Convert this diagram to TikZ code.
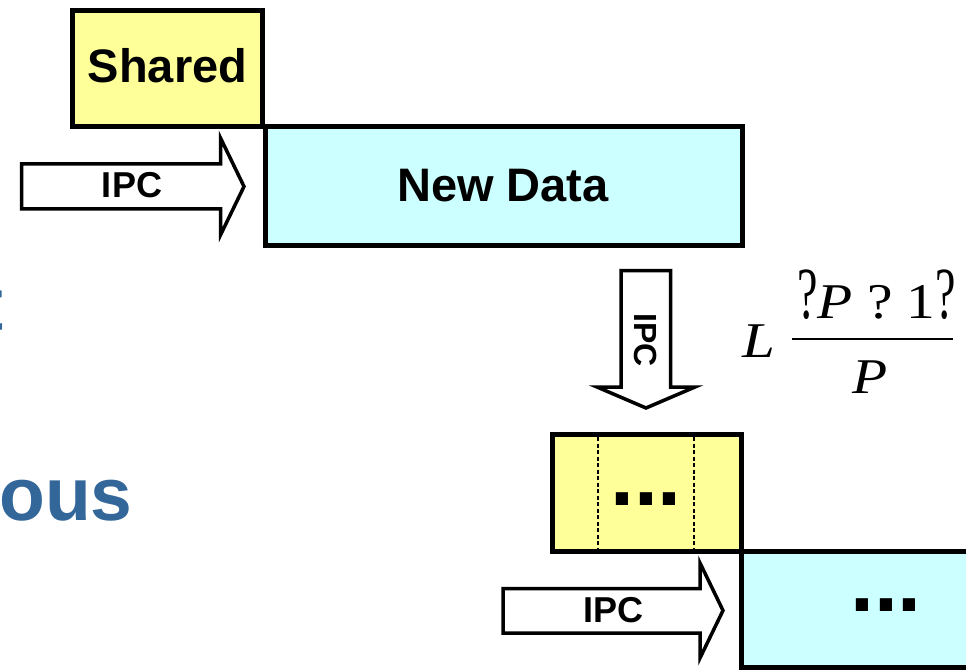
\documentclass[tikz,border=0pt]{standalone}
\usepackage{fontspec}
\setmainfont{Liberation Sans}
\newfontfamily\mathserif{Liberation Serif}
\definecolor{dataYellow}{HTML}{FFFF99}
\definecolor{dataCyan}{HTML}{CCFFFF}
\definecolor{titleBlue}{HTML}{336699}
% tall, narrow question mark standing in for a missing bracket glyph
\newcommand{\tallq}{\scalebox{0.8}[1.47]{?}}
\begin{document}
\begin{tikzpicture}[x=1pt,y=-1pt,
  blockbox/.style={draw=black, line width=5pt, inner sep=0pt},
  ipcarrow/.style={draw=black, fill=white, line width=3.5pt, line join=miter},
  boxtext/.style={font=\fontsize{47}{47}\selectfont\bfseries, inner sep=0pt},
  ipctext/.style={font=\fontsize{36}{36}\selectfont\bfseries, inner sep=0pt},
  dotstext/.style={font=\fontsize{86}{86}\selectfont\bfseries, inner sep=0pt},
  titletext/.style={font=\fontsize{75}{75}\selectfont\bfseries, text=titleBlue, inner sep=0pt},
  formula/.style={font=\fontsize{50}{50}\selectfont\mathserif, inner sep=0pt}]
\useasboundingbox (0,0) rectangle (966,671);

% fragments of the slide title
\node[titletext, anchor=base east] (titleT) at (4,330) {t};
\node[titletext, anchor=base west] (titleOus) at (-1,520) {ous};

% upper stage: shared block and new data block
\node[blockbox, fill=dataCyan, minimum width=477.5pt, minimum height=118.5pt] (newdataBox) at (503.75,186.25) {};
\node[blockbox, fill=dataYellow, minimum width=190pt, minimum height=116.5pt] (sharedBox) at (167.5,68.75) {};
\node[boxtext, anchor=base] (shared) at (167.5,83) {Shared};
\node[boxtext, anchor=base] (newdata) at (503,202) {New Data};

% incoming IPC arrow
\draw[ipcarrow] (21.5,164) -- (220.5,164) -- (220.5,138) -- (244,186.5)
  -- (220.5,235) -- (220.5,209) -- (21.5,209) -- cycle;
\node[ipctext, anchor=base] (ipcA) at (132,197) {IPC};

% downward IPC arrow
\draw[ipcarrow] (621,270.5) -- (670.5,270.5) -- (670.5,387) -- (695,387)
  -- (646,408) -- (597,387) -- (621,387) -- cycle;
\node[ipctext, rotate=-90, font=\fontsize{32}{32}\selectfont\bfseries] (ipcB) at (646,340) {IPC};

% cost formula
\node[formula, anchor=base west] (costL) at (742,357) {\scalebox{1.18}[1]{\itshape L}};
\node[formula, anchor=base west] (costNum) at (797,318) {\scalebox{1.15}[1]{\tallq\textit{P} ? 1\tallq}};
\coordinate (barL) at (792,339);
\coordinate (barR) at (953,339);
\draw[line width=2.5pt] (barL) -- (barR);
\node[formula, anchor=base] (costDen) at (870,393) {\scalebox{1.15}[1]{\itshape P}};

% lower stage: pipelined blocks
\node[blockbox, fill=dataCyan, minimum width=300pt, minimum height=115.5pt] (nextBox) at (891.5,609.25) {};
\node[blockbox, fill=dataYellow, minimum width=188.5pt, minimum height=116.5pt] (pipeBox) at (646.75,492.75) {};
\coordinate (sepA1) at (598,437);
\coordinate (sepA2) at (598,549);
\coordinate (sepB1) at (694,437);
\coordinate (sepB2) at (694,549);
\draw[line width=1.5pt, dash pattern=on 4pt off 2.5pt] (sepA1) -- (sepA2);
\draw[line width=1.5pt, dash pattern=on 4pt off 2.5pt] (sepB1) -- (sepB2);
\node[dotstext, anchor=base] (dotsA) at (646,505) {...};
\node[dotstext, anchor=base] (dotsB) at (886,611) {...};

% lower IPC arrow
\draw[ipcarrow] (503,588.5) -- (700,588.5) -- (700,563) -- (723,610.5)
  -- (700,658) -- (700,633) -- (503,633) -- cycle;
\node[ipctext, anchor=base] (ipcC) at (613,622) {IPC};
\end{tikzpicture}
\end{document}
